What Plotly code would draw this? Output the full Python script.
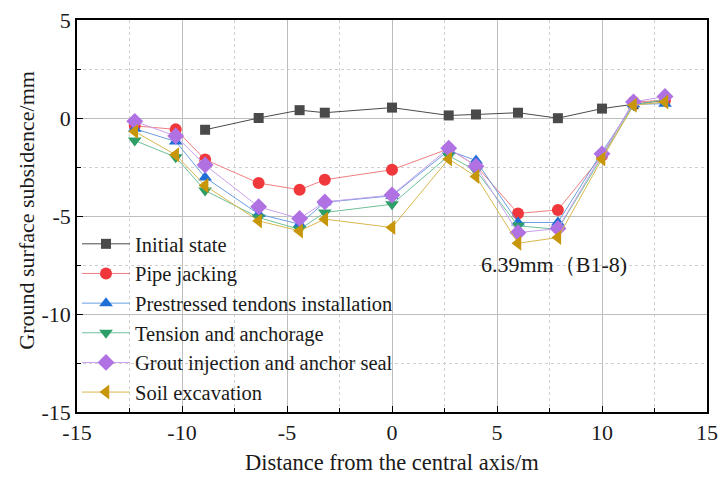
import plotly.graph_objects as go

x_all = [-12.25, -10.3, -8.9, -6.35, -4.4, -3.2, 0, 2.7, 4.0, 6.0, 7.9, 10.0, 11.5, 13.0]
x_init = x_all[2:]

initial_state = [-0.6, 0.0, 0.4, 0.27, 0.53, 0.13, 0.18, 0.27, -0.01, 0.48, 0.7, 0.9]
pipe_jacking = [-0.4, -0.58, -2.12, -3.32, -3.66, -3.15, -2.64, -1.57, -2.43, -4.87, -4.69, -1.92, 0.82, 0.9]
prestressed = [-0.55, -1.2, -3.03, -4.9, -5.42, -4.3, -3.97, -1.66, -2.17, -5.33, -5.33, -1.74, 0.7, 0.73]
tension = [-1.15, -2.0, -3.7, -5.08, -5.68, -4.82, -4.4, -1.92, -2.69, -5.5, -5.68, -2.0, 0.65, 0.95]
grout = [-0.17, -0.92, -2.4, -4.53, -5.13, -4.28, -3.93, -1.54, -2.46, -5.85, -5.64, -1.83, 0.82, 1.1]
soil = [-0.69, -1.88, -3.45, -5.25, -5.76, -5.16, -5.59, -2.09, -2.98, -6.39, -6.1, -2.09, 0.65, 0.82]

x_ticks = [-15, -10, -5, 0, 5, 10, 15]
x_tick_labels = ["-15", "-10", "-5", "0", "5", "10", "15"]
y_ticks = [-15, -10, -5, 0, 5]
y_tick_labels = ["-15", "-10", "-5", "0", "5"]

series = [
    ("Initial state", x_init, initial_state, "#4a4a4a", "#4a4a4a", "square", 10),
    ("Pipe jacking", x_all, pipe_jacking, "#f0383c", "#f07f82", "circle", 12),
    ("Prestressed tendons installation", x_all, prestressed, "#1f6fd6", "#6a9ee0", "triangle-up", 12),
    ("Tension and anchorage", x_all, tension, "#2e9e68", "#6fc09a", "triangle-down", 12),
    ("Grout injection and anchor seal", x_all, grout, "#b071e3", "#c9a0ec", "diamond", 13),
    ("Soil excavation", x_all, soil, "#c8960a", "#d8b84e", "triangle-left", 13),
]

SERIF = "Liberation Serif"
TXT = "#1a1a1a"

fig = go.Figure()
for name, xs, ys, mc, lc, sym, sz in series:
    fig.add_trace(go.Scatter(
        x=xs, y=ys, name=name, mode="lines+markers",
        line=dict(color=lc, width=1),
        marker=dict(symbol=sym, size=sz, color=mc, line=dict(width=0)),
    ))

fig.add_annotation(x=7.7, y=-7.45, text="6.39mm（B1-8)", showarrow=False,
                   font=dict(family=SERIF, size=22, color=TXT))

# axis titles
fig.add_annotation(xref="paper", yref="paper", x=0.5, y=-0.13,
                   xanchor="center", yanchor="middle", showarrow=False,
                   text="Distance from the central axis/m",
                   font=dict(family=SERIF, size=22.5, color=TXT))
fig.add_annotation(xref="paper", yref="paper", x=-0.08, y=0.515,
                   xanchor="center", yanchor="middle", showarrow=False, textangle=-90,
                   text="Ground surface subsidence/mm",
                   font=dict(family=SERIF, size=22, color=TXT))

axis_common = dict(
    showline=True, linecolor="black", linewidth=1.5, mirror=True,
    ticks="inside", ticklen=6, tickcolor="black",
    showgrid=True, gridcolor="#bdbdbd", gridwidth=1,
    zeroline=False, automargin=False,
    tickfont=dict(family=SERIF, size=22, color=TXT),
    minor=dict(dtick=2.5, showgrid=True, gridcolor="#d0d0d0", griddash="dot",
               ticks="inside", ticklen=4, tickcolor="black"),
)

fig.update_xaxes(range=[-15, 15], tickmode="array", tickvals=x_ticks, ticktext=x_tick_labels,
                 **axis_common)
fig.update_yaxes(range=[-15, 5], tickmode="array", tickvals=y_ticks, ticktext=y_tick_labels,
                 **axis_common)

fig.update_layout(
    width=719, height=477,
    margin=dict(l=77, r=12, t=20, b=65),
    plot_bgcolor="white", paper_bgcolor="white",
    font=dict(family=SERIF, size=22, color=TXT),
    legend=dict(x=0.0, y=0.0, xanchor="left", yanchor="bottom",
                bgcolor="rgba(0,0,0,0)", borderwidth=0,
                font=dict(family=SERIF, size=20.5, color=TXT),
                tracegroupgap=0, itemwidth=48),
)

fig.write_html("out.html", config={"displayModeBar": False},
               post_script="document.body.style.margin='0px';document.body.style.overflow='hidden';")
